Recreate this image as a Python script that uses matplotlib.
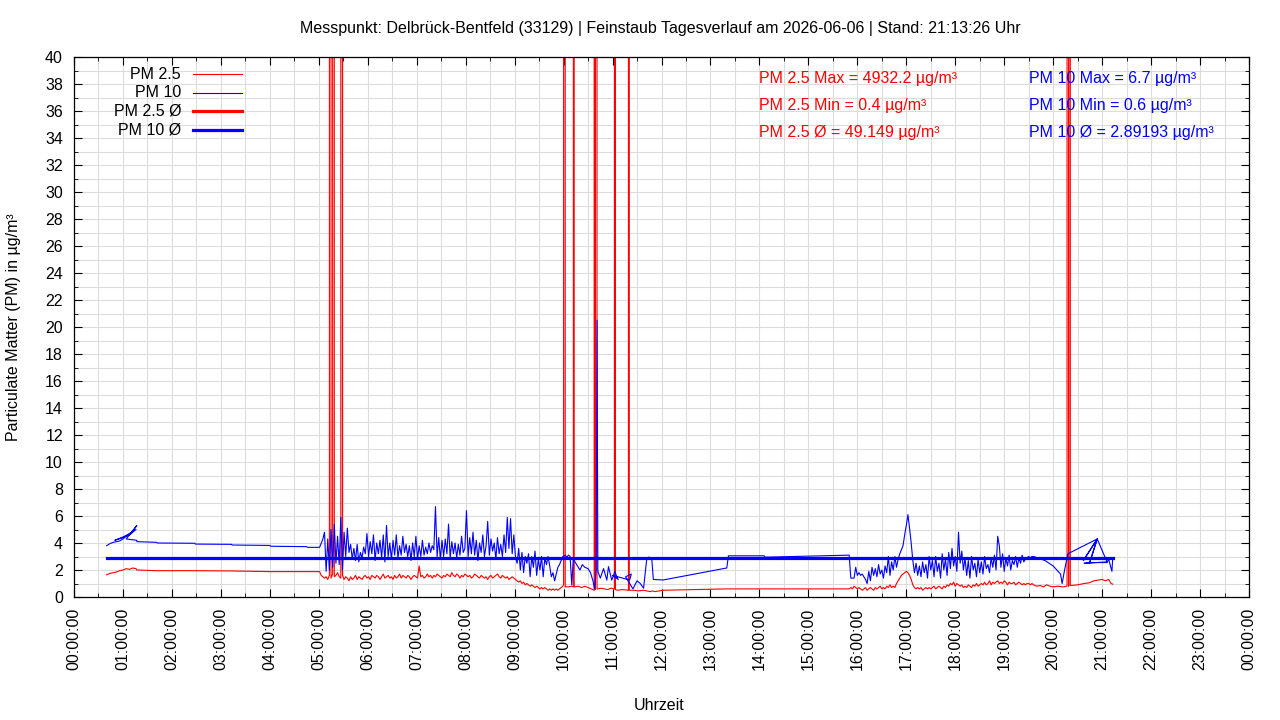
import numpy as np
import matplotlib
matplotlib.use("Agg")
import matplotlib.pyplot as plt
from matplotlib.lines import Line2D
from matplotlib.ticker import MultipleLocator, FuncFormatter

plt.rcParams['font.family'] = ['Liberation Sans', 'DejaVu Sans']
plt.rcParams['font.size'] = 11.5

station = "Delbrück-Bentfeld (33129)"
day = "2026-06-06"
stand = "21:13:26"

# statistics as printed on the chart
pm25_max, pm25_min, pm25_avg = 4932.2, 0.4, 49.149
pm10_max, pm10_min, pm10_avg = 6.7, 0.6, 2.89193

# times are minutes after midnight
# night: only a few readings between 00:40 and 05:00
pm10_night_t = [40, 44, 48, 52, 56, 60, 64, 68, 72, 76, 60, 50, 70, 77, 64, 77, 77, 101,
                102, 148, 149, 193, 194, 240, 241, 285, 286, 301]
pm10_night = [3.8, 3.95, 4.05, 4.1, 4.15, 4.3, 4.5, 4.6, 4.8, 5.0, 4.4, 4.2, 4.7, 5.3, 4.3,
              4.2, 4.1, 4.05, 4.0, 3.98, 3.92, 3.9, 3.85, 3.82, 3.76, 3.73, 3.68, 3.68]
pm25_night_t = [40, 44, 48, 52, 56, 60, 64, 68, 72, 76, 77, 101, 148, 193, 241, 285, 301]
pm25_night = [1.65, 1.75, 1.8, 1.85, 1.95, 2.0, 2.1, 2.05, 2.15, 2.1, 2.0, 1.95, 1.95, 1.93,
              1.88, 1.88, 1.88]

# morning: one reading every 2 minutes from 05:03 to 09:59
morning_start = 303
pm10_morning = [
    4.0, 4.3, 4.8, 1.9, 4.3, 2.0, 5.0, 2.2, 5.4, 2.5, 4.5, 2.4, 5.9, 2.0, 4.8, 3.0, 5.1, 3.3,
    3.9, 2.8, 3.6, 2.7, 3.9, 2.6, 3.3, 2.9, 3.7, 3.2, 4.7, 3.0, 4.1, 3.2, 4.6, 2.7, 4.0, 3.2,
    4.2, 2.9, 4.6, 2.6, 5.3, 3.0, 4.0, 2.8, 4.2, 3.1, 4.6, 2.9, 3.8, 3.1, 4.5, 3.3, 3.9, 3.0,
    3.8, 2.7, 4.0, 3.0, 4.5, 2.8, 3.8, 3.0, 4.2, 3.1, 3.7, 3.2, 4.0, 3.3, 3.8, 3.5, 6.7,
    3.0, 4.4, 2.8, 4.2, 3.0, 4.3, 3.2, 5.4, 2.9, 4.1, 3.2, 4.0, 2.9, 3.9, 3.1, 4.5, 3.3, 3.6,
    6.4, 3.0, 4.4, 3.2, 4.8, 3.1, 4.2, 2.7, 4.0, 3.3, 4.6, 3.0, 3.8, 5.6, 3.1, 4.3, 3.4, 4.0,
    2.8, 4.4, 3.2, 3.9, 3.0, 4.6, 3.3, 5.9, 3.6, 5.8, 3.2, 4.6, 3.0, 2.5, 3.6, 2.0, 3.3, 1.8,
    3.0, 2.5, 3.2, 1.5, 3.0, 2.2, 3.4, 1.6, 2.8, 2.0, 3.0, 1.5, 2.9, 2.4, 3.0, 2.3, 1.5, 1.8,
    1.2, 1.7, 2.2, 2.4, 2.7, 3.0]
pm25_morning = [
    1.6, 1.5, 1.4, 1.5, 1.3, 1.6, 1.4, 1.7, 1.5, 1.6,
    1.8, 1.5, 1.4, 1.6, 1.3, 1.5, 1.4, 1.2, 1.5, 1.3,
    1.4, 1.6, 1.3, 1.5, 1.4, 1.3, 1.5, 1.6, 1.4, 1.5,
    1.3, 1.6, 1.5, 1.4, 1.6, 1.5, 1.3, 1.5, 1.7, 1.4,
    1.5, 1.6, 1.4, 1.5, 1.3, 1.6, 1.4, 1.5, 1.7, 1.4,
    1.6, 1.5, 1.4, 1.6, 1.5, 1.3, 1.5, 1.6, 1.5, 1.4,
    2.3, 1.5, 1.6, 1.4, 1.5, 1.7, 1.5, 1.6, 1.4, 1.6,
    1.5, 1.7, 1.6, 1.5, 1.4, 1.6, 1.5, 1.7, 1.6, 1.5,
    1.8, 1.6, 1.5, 1.7, 1.6, 1.4, 1.6, 1.5, 1.7, 1.6,
    1.5, 1.6, 1.4, 1.5, 1.7, 1.6, 1.5, 1.4, 1.6, 1.5,
    1.4, 1.5, 1.3, 1.5, 1.6, 1.4, 1.5, 1.6, 1.7, 1.5,
    1.4, 1.6, 1.5, 1.4, 1.5, 1.3, 1.4, 1.5, 1.4, 1.3,
    1.2, 1.1, 1.2, 1.0, 1.1, 0.9, 1.0, 0.9, 0.8, 0.9,
    0.8, 0.7, 0.8, 0.7, 0.6, 0.7, 0.6, 0.7, 0.6, 0.5,
    0.6, 0.5, 0.6, 0.5, 0.6, 0.5, 0.6, 0.7, 0.8]

# midday: irregular readings 10:00 - 15:50
pm10_midday_t = [600, 602, 604, 606, 608, 610, 612, 614, 617, 620, 623, 626, 630, 633, 636,
                 638, 640, 641, 642, 645, 649, 653, 655, 659, 663, 665, 667, 660, 681, 683,
                 676, 685, 690, 694, 698, 702, 704, 708, 710, 722, 800, 802, 846, 847, 950]
pm10_midday = [3.0, 3.1, 2.95, 3.1, 3.0, 0.9, 2.9, 2.6, 2.3, 2.0, 2.4, 2.2, 2.1, 1.8, 1.2,
               0.6, 2.0, 20.5, 1.9, 1.4, 2.1, 1.25, 2.25, 1.25, 1.9, 1.5, 1.3, 1.6, 1.26, 1.7,
               1.5, 0.6, 1.2, 1.0, 0.65, 2.86, 2.95, 2.9, 1.3, 1.26, 2.15, 3.05, 3.05, 2.95, 3.1]
pm25_midday_t = [600, 602, 606, 610, 612, 613, 614, 618, 622, 626,
                 630, 634, 637.5, 639, 641, 642, 646, 650, 654, 658,
                 662, 662.5, 663.5, 666, 672, 679.5, 680.5, 686, 692, 698,
                 702, 706, 709, 712, 722, 800, 950]
pm25_midday = [0.9, 0.75, 0.75, 0.8, 0.75, 0.75, 0.75, 0.8, 0.7, 0.8,
               0.7, 0.6, 0.5, 0.55, 0.6, 0.6, 0.65, 0.6, 0.55, 0.65,
               0.6, 0.6, 0.55, 0.5, 0.55, 0.5, 0.5, 0.5, 0.45, 0.5,
               0.45, 0.4, 0.45, 0.4, 0.5, 0.6, 0.6]

# afternoon: one reading every 2 minutes from 15:52 to 19:34
afternoon_start = 952
pm10_afternoon = [
    1.4, 1.4, 1.4, 2.2, 1.6, 1.8, 1.6, 1.7, 1.5, 1.3,
    1.0, 1.9, 1.2, 2.2, 1.6, 2.1, 1.5, 2.4, 1.7, 2.0,
    1.4, 2.3, 1.8, 3.0, 1.6, 2.6, 2.0, 3.0, 2.2, 2.8,
    3.2, 3.5, 3.8, 4.6, 5.3, 6.1, 5.1, 4.0, 2.7, 1.8,
    2.5, 1.6, 2.3, 1.5, 2.6, 1.8, 2.4, 1.4, 3.0, 2.0,
    2.7, 1.5, 3.0, 1.9, 2.5, 1.4, 3.2, 2.0, 2.8, 1.6,
    3.3, 2.1, 3.6, 2.3, 3.0, 1.9, 4.8, 2.5, 3.4, 2.0,
    2.9, 1.6, 2.7, 1.4, 3.0, 2.0, 2.5, 1.5, 2.8, 1.8,
    2.6, 1.7, 3.0, 2.1, 2.4, 1.8, 2.9, 2.2, 3.1, 2.0,
    4.5, 3.8, 2.2, 3.2, 1.9, 2.9, 2.3, 3.1, 2.0, 2.7,
    2.4, 3.0, 2.2, 2.9, 2.5, 3.1, 2.6, 2.8, 2.9, 3.0,
    2.9, 3.0]
pm25_afternoon = [
    0.7, 0.6, 0.8, 0.7, 0.6, 0.7, 0.6, 0.5, 0.6, 0.7,
    0.5, 0.6, 0.7, 0.6, 0.5, 0.7, 0.6, 0.7, 0.8, 0.6,
    0.7, 0.6, 0.8, 0.7, 0.9, 0.7, 0.8, 0.7, 1.0, 1.2,
    1.4, 1.6, 1.7, 1.8, 1.9, 1.8, 1.6, 1.3, 0.9, 0.7,
    0.6, 0.7, 0.6, 0.7, 0.5, 0.6, 0.7, 0.6, 0.7, 0.6,
    0.7, 0.8, 0.6, 0.7, 0.8, 0.7, 0.6, 0.8, 0.7, 0.9,
    0.8, 1.0, 0.9, 1.1, 0.8, 1.0, 0.9, 0.8, 0.9, 0.7,
    0.8, 0.7, 0.9, 0.8, 0.7, 0.9, 0.8, 1.0, 0.8, 0.9,
    1.0, 0.9, 1.1, 0.9, 1.0, 1.2, 0.9, 1.1, 1.0, 1.1,
    1.2, 1.0, 1.1, 1.0, 1.2, 1.1, 0.9, 1.1, 1.0, 1.0,
    1.1, 0.9, 1.0, 1.1, 1.0, 0.9, 1.0, 0.9, 1.0, 1.0,
    0.9, 1.0]

# evening: irregular readings until the last upload
pm10_evening_t = [1176, 1190, 1200, 1209, 1211, 1214, 1218, 1254, 1237, 1254, 1245, 1254,
                  1266, 1238, 1250, 1266, 1268, 1272, 1273]
pm10_evening = [3.0, 2.7, 2.3, 1.7, 1.0, 2.0, 3.2, 4.3, 2.7, 4.3, 2.6, 4.3, 2.6, 2.5, 2.55,
                2.55, 2.8, 1.9, 2.9]
pm25_evening_t = [1176, 1180, 1184, 1188, 1192, 1196, 1200, 1206, 1212, 1217, 1219, 1221,
                  1230, 1238, 1244, 1250, 1255, 1260, 1264, 1268, 1271, 1273]
pm25_evening = [0.9, 0.8, 0.85, 0.75, 0.9, 0.8, 0.75, 0.8, 0.75, 0.8, 0.8, 0.85,
                0.9, 1.0, 1.05, 1.2, 1.25, 1.3, 1.2, 1.3, 1.0, 0.95]

# PM 2.5 outliers far above the plotted range
pm25_spike_t = [313, 318, 327, 601.5, 612.5, 638, 640, 663, 680, 1218, 1220]
pm25_spike = [pm25_max] * len(pm25_spike_t)


def grid_times(start, values):
    return list(start + 2 * np.arange(len(values)))


pm10_t = (pm10_night_t + grid_times(morning_start, pm10_morning) + pm10_midday_t
          + grid_times(afternoon_start, pm10_afternoon) + pm10_evening_t)
pm10 = pm10_night + pm10_morning + pm10_midday + pm10_afternoon + pm10_evening

pm25_t = np.array(pm25_night_t + grid_times(morning_start, pm25_morning) + pm25_midday_t
                  + grid_times(afternoon_start, pm25_afternoon) + pm25_evening_t + pm25_spike_t,
                  dtype=float)
pm25 = np.array(pm25_night + pm25_morning + pm25_midday + pm25_afternoon + pm25_evening
                + pm25_spike)
order = np.argsort(pm25_t, kind="stable")
pm25_t, pm25 = pm25_t[order], pm25[order]

t_first, t_last = min(pm10_t), max(pm10_t)

fig = plt.figure(figsize=(12.8, 7.2), dpi=100)
ax = fig.add_axes([74 / 1280, 1 - 597 / 720, 1175 / 1280, 540 / 720])

ax.plot(pm25_t, pm25, color="#ff0000", lw=0.8, zorder=2)
ax.plot(pm10_t, pm10, color="#0000ff", lw=0.8, zorder=3)
ax.plot([t_first, t_last], [pm25_avg, pm25_avg], color="#ff0000", lw=2.3, zorder=4)
ax.plot([t_first, t_last], [pm10_avg, pm10_avg], color="#0000ff", lw=2.3, zorder=4)

ax.set_xlim(0, 1440)
ax.set_ylim(0, 40)
ax.xaxis.set_major_locator(MultipleLocator(60))
ax.xaxis.set_minor_locator(MultipleLocator(30))
ax.yaxis.set_major_locator(MultipleLocator(2))
ax.yaxis.set_minor_locator(MultipleLocator(1))
ax.xaxis.set_major_formatter(FuncFormatter(lambda v, p: "%02d:00:00" % (int(round(v / 60)) % 24)))
ax.grid(which="both", color="#dcdcdc", lw=0.8)
ax.set_axisbelow(True)
ax.tick_params(which="both", direction="in", top=True, right=True, labelsize=11.5)
ax.tick_params(which="major", length=6)
ax.tick_params(which="minor", length=3)
ax.tick_params(axis="x", which="major", rotation=90, pad=8)
ax.tick_params(axis="y", which="major", pad=8)
for s in ax.spines.values():
    s.set_linewidth(0.9)

# legend in gnuplot style: label right aligned, sample line after it
legend_rows = [("PM 2.5", "#ff0000", 0.8), ("PM 10", "#0000ff", 0.8),
               ("PM 2.5 Ø", "#ff0000", 2.3), ("PM 10 Ø", "#0000ff", 2.3)]
for i, (label, col, lw) in enumerate(legend_rows):
    y = 0.9685 - i * 0.0346
    ax.text(0.0911, y, label, ha="right", va="center", transform=ax.transAxes, fontsize=11.5)
    ax.add_line(Line2D([0.1013, 0.143], [y, y], color=col, lw=lw, transform=ax.transAxes))

red_stats = ["PM 2.5 Max = %g µg/m³" % pm25_max, "PM 2.5 Min = %g µg/m³" % pm25_min,
             "PM 2.5 Ø = %g µg/m³" % pm25_avg]
blue_stats = ["PM 10 Max = %g µg/m³" % pm10_max, "PM 10 Min = %g µg/m³" % pm10_min,
              "PM 10 Ø = %g µg/m³" % pm10_avg]
for i in range(3):
    y = 0.961 - i * 0.05
    ax.text(0.583, y, red_stats[i], color="#ff0000", ha="left", va="center",
            transform=ax.transAxes, fontsize=11.5)
    ax.text(0.8128, y, blue_stats[i], color="#0000ff", ha="left", va="center",
            transform=ax.transAxes, fontsize=11.5)

fig.text(0.5156, 1 - 29 / 720,
         "Messpunkt: %s | Feinstaub Tagesverlauf am %s | Stand: %s Uhr" % (station, day, stand),
         ha="center", va="center", fontsize=11.5)
fig.text(14 / 1280, 1 - 327 / 720, "Particulate Matter (PM) in µg/m³", rotation=90,
         ha="center", va="center", fontsize=11.5)
fig.text(659 / 1280, 1 - 705 / 720, "Uhrzeit", ha="center", va="center", fontsize=11.5)

fig.savefig("out.png", dpi=100)
